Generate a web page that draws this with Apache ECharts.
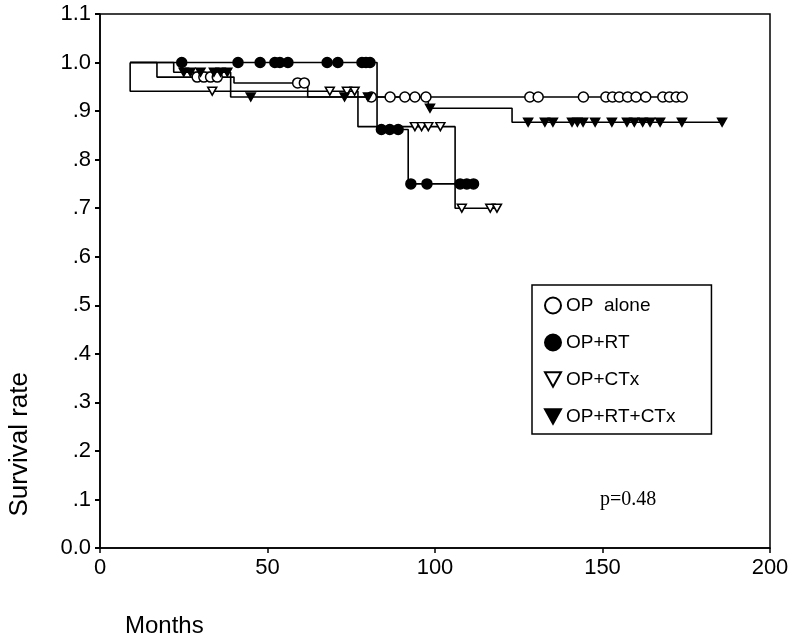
<!DOCTYPE html>
<html>
<head>
<meta charset="utf-8">
<script src="https://cdn.jsdelivr.net/npm/echarts@6/dist/echarts.min.js"></script>
<style>
html, body { margin: 0; padding: 0; background: #fff; }
#main { width: 793px; height: 642px; }
</style>
</head>
<body>
<div id="main"></div>
<script>
// Kaplan-Meier curves: steps are [month, survival from that month on]
var opAloneSteps = [[9, 1], [17, 0.97], [40, 0.958], [62, 0.929]];
var opAloneEnd = 174;
var opAloneCensored = [29, 31, 33, 35, 59, 61, 81, 86.6, 91, 94, 97.3, 128.3, 130.8, 144.3,
    151, 153, 155, 157.5, 160, 162.9, 168, 170, 172, 173.8];

var opRtSteps = [[9, 1], [82.7, 0.862], [92, 0.75]];
var opRtEnd = 111.5;
var opRtCensored = [24.4, 41.2, 47.8, 52.2, 53.7, 56.1, 67.8, 71, 78.2, 79.4, 80.6,
    84, 86.5, 89, 92.8, 97.6, 107.5, 109.5, 111.5];

var opCtxSteps = [[9, 1], [9, 0.941], [77, 0.868], [106, 0.70]];
var opCtxEnd = 119;
var opCtxCensored = [33.5, 68.6, 73.7, 76, 94, 96, 98, 101.6, 108, 116.5, 118.5];

var opRtCtxSteps = [[9, 1], [22, 0.98], [39, 0.929], [98, 0.906], [123, 0.877]];
var opRtCtxEnd = 186;
var opRtCtxCensored = [25, 27, 30, 34, 36, 38, 45, 73, 80, 98.5,
    127.8, 132.8, 135.2, 140.9, 142.5, 144.2, 147.8, 152.8, 157.3, 159.5, 162, 164.2,
    167.2, 173.7, 185.7];

var groupNames = ['OP  alone', 'OP+RT', 'OP+CTx', 'OP+RT+CTx'];
var yTickLabels = ['0.0', '.1', '.2', '.3', '.4', '.5', '.6', '.7', '.8', '.9', '1.0', '1.1'];

var downTri = 'path://M0,0 L10,0 L5,9 Z';

function levelAt(steps, t) {
    var s = steps[0][1];
    for (var i = 0; i < steps.length; i++) {
        if (steps[i][0] <= t) s = steps[i][1];
    }
    return s;
}

function curve(steps, end) {
    return steps.concat([[end, steps[steps.length - 1][1]]]);
}

function marks(steps, censored) {
    return censored.map(function (t) { return [t, levelAt(steps, t)]; });
}

var groups = [
    { steps: opAloneSteps, end: opAloneEnd, cens: opAloneCensored,
      symbol: 'circle', size: 10, fill: '#fff' },
    { steps: opRtSteps, end: opRtEnd, cens: opRtCensored,
      symbol: 'circle', size: 10, fill: '#000' },
    { steps: opCtxSteps, end: opCtxEnd, cens: opCtxCensored,
      symbol: downTri, size: [9, 8], fill: '#fff' },
    { steps: opRtCtxSteps, end: opRtCtxEnd, cens: opRtCtxCensored,
      symbol: downTri, size: [9, 8], fill: '#000' }
];

var series = [];
groups.forEach(function (g, i) {
    series.push({
        name: groupNames[i] + ' curve',
        type: 'line',
        step: 'end',
        showSymbol: false,
        silent: true,
        lineStyle: { color: '#000', width: 1.6 },
        data: curve(g.steps, g.end),
        z: 2
    });
});
groups.forEach(function (g, i) {
    series.push({
        name: groupNames[i],
        type: 'scatter',
        symbol: g.symbol,
        symbolSize: g.size,
        itemStyle: { color: g.fill, borderColor: '#000', borderWidth: 1.5, opacity: 1 },
        data: marks(g.steps, g.cens),
        z: 3
    });
});

var chart = echarts.init(document.getElementById('main'));
chart.setOption({
    animation: false,
    backgroundColor: '#fff',
    textStyle: { fontFamily: 'Liberation Sans', color: '#000' },
    grid: {
        left: 100, right: 23, top: 14, bottom: 94,
        show: true, borderColor: '#000', borderWidth: 1.5
    },
    legend: {
        data: groupNames,
        orient: 'vertical',
        left: 532, top: 285,
        padding: [11, 36, 8, 12],
        itemGap: 18,
        itemWidth: 16, itemHeight: 16,
        borderColor: '#000', borderWidth: 1.5,
        textStyle: { fontSize: 19, color: '#000', fontFamily: 'Liberation Sans' }
    },
    xAxis: {
        type: 'value', min: 0, max: 200, interval: 50,
        axisLine: { lineStyle: { color: '#000', width: 1.5 } },
        axisTick: { show: true, length: 5, lineStyle: { color: '#000', width: 1.5 } },
        axisLabel: { fontSize: 22, color: '#000', margin: 9 },
        splitLine: { show: false }
    },
    yAxis: {
        type: 'value', min: 0, max: 1.1, interval: 0.1,
        axisLine: { show: true, lineStyle: { color: '#000', width: 1.5 } },
        axisTick: { show: true, length: 5, lineStyle: { color: '#000', width: 2 } },
        axisLabel: {
            fontSize: 22, color: '#000', margin: 9,
            formatter: function (v) { return yTickLabels[Math.round(v * 10)]; }
        },
        splitLine: { show: false }
    },
    graphic: [
        {
            type: 'text', left: 7, top: 372, rotation: Math.PI / 2,
            style: { text: 'Survival rate', fontSize: 26, fill: '#000', fontFamily: 'Liberation Sans' }
        },
        {
            type: 'text', left: 125, top: 614,
            style: { text: 'Months', fontSize: 24, fill: '#000', fontFamily: 'Liberation Sans' }
        },
        {
            type: 'text', left: 600, top: 490,
            style: { text: 'p=0.48', fontSize: 20, fill: '#000', fontFamily: 'Liberation Serif' }
        }
    ],
    series: series
});
</script>
</body>
</html>
